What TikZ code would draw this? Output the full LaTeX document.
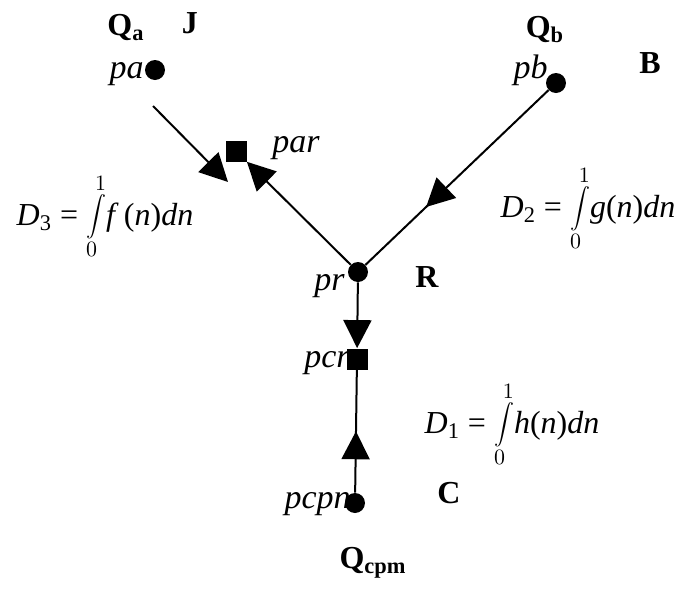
\documentclass[tikz,border=0pt]{standalone}
\usepackage{fontspec}
\setmainfont{Liberation Serif}
\usetikzlibrary{arrows.meta,calc,decorations.markings}

\begin{document}
\begin{tikzpicture}[x=0.5pt,y=-0.5pt,
  dot/.style={circle,fill=black,inner sep=0pt,minimum size=10pt},
  sq/.style={rectangle,fill=black,inner sep=0pt,minimum size=10.5pt},
  lbl/.style={font=\fontsize{17}{20}\selectfont\itshape,inner sep=0pt},
  bigl/.style={font=\fontsize{16}{19}\selectfont\bfseries,inner sep=0pt},
  eqn/.style={font=\fontsize{16}{19}\selectfont,inner sep=0pt},
  tri/.tip={Triangle[length=14pt,width=14pt]},
  flow/.style={line width=1pt},
  midtri/.style={postaction={decorate},decoration={markings,mark=at position #1 with {\arrow{tri}}}}]
  \useasboundingbox (0,0) rectangle (682,590);
  % points
  \node[dot] (pa) at (155,70) {};
  \node[dot] (pb) at (556,83) {};
  \node[sq] (par) at (236,151) {};
  \node[dot] (pr) at (358,272) {};
  \node[sq] (pcr) at (357,359) {};
  \node[dot] (pcpn) at (355,503) {};
  % price labels
  \node[lbl,anchor=base east] (la) at (144,78) {pa};
  \node[lbl,anchor=base east] (lb) at (548,78) {pb};
  \node[lbl,anchor=base west] (lar) at (272,152) {par};
  \node[lbl,anchor=base east] (lr) at (345,290) {pr};
  \node[lbl,anchor=base east] (lcr) at (350,367) {pcr};
  \node[lbl,anchor=base east] (lcpn) at (351,508) {pcpn};
  % places and flows
  \node[bigl,anchor=base] (qa) at (126,35) {Q\textsubscript{a}};
  \node[bigl,anchor=base] (j) at (190,33) {J};
  \node[bigl,anchor=base] (qb) at (545,37) {Q\textsubscript{b}};
  \node[bigl,anchor=base] (b) at (650,73) {B};
  \node[bigl,anchor=base] (r) at (427,287) {R};
  \node[bigl,anchor=base] (c) at (449,503) {C};
  \node[bigl,anchor=base] (qcpm) at (373,568) {Q\textsubscript{cpm}};
  % demands
  \node[eqn,anchor=base] (d3) at (105,225) {\textit{D}\textsubscript{3} = $\displaystyle\int\limits_0^1$\textit{f}\,(\textit{n})\textit{dn}};
  \node[eqn,anchor=base] (d2) at (588,217) {\textit{D}\textsubscript{2} = $\displaystyle\int\limits_0^1$\textit{g}(\textit{n})\textit{dn}};
  \node[eqn,anchor=base] (d1) at (512,433) {\textit{D}\textsubscript{1} = $\displaystyle\int\limits_0^1$\textit{h}(\textit{n})\textit{dn}};
  % connectors
  \coordinate (s1) at ($(pa)+(-2,36)$);
  \coordinate (e1) at ($(par)+(-8,31)$);
  \draw[flow,-tri] (s1) -- (e1);
  \draw[flow,-tri] (pr) -- (par);
  \draw[flow,midtri=0.67] (pb) -- (pr);
  \draw[flow,-tri] (pr) -- (pcr);
  \draw[flow,midtri=0.5] (pcpn) -- (pcr);
\end{tikzpicture}
\end{document}
